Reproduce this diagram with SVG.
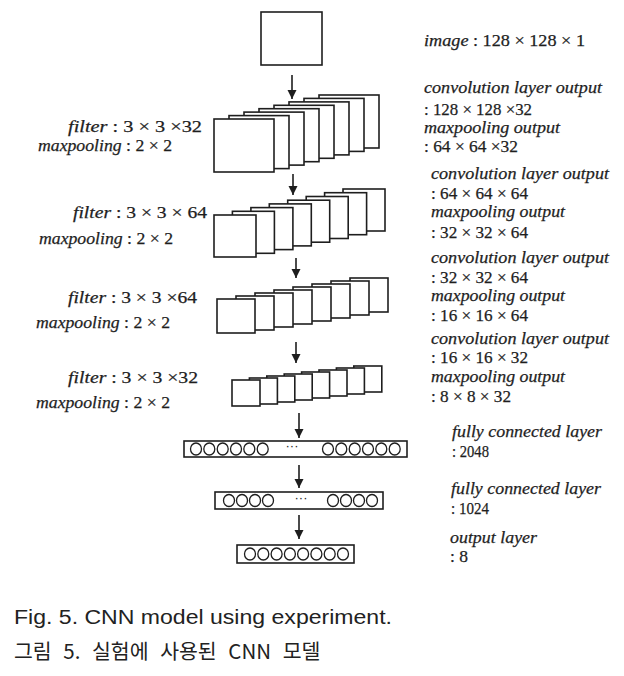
<svg xmlns="http://www.w3.org/2000/svg" width="624" height="676" viewBox="0 0 624 676">
<style>
.bg{fill:#ffffff}
.box{fill:#ffffff;stroke:#1e1e1e;stroke-width:1.6}
.neu{fill:none;stroke:#1e1e1e;stroke-width:1.3}
.arr{stroke:#1e1e1e;stroke-width:1.6;fill:none;marker-end:url(#ah)}
.t{font-family:"Liberation Serif","DejaVu Serif",serif;font-size:17px;fill:#1e1e1e;stroke:#1e1e1e;stroke-width:0.25}
.i{font-style:italic}
.dots{font-family:"Liberation Sans",sans-serif;font-size:13px;fill:#222}
.cap{font-family:"Liberation Sans","Noto Sans CJK KR",sans-serif;font-size:20px;fill:#222}
.kr{font-family:"Noto Sans CJK KR","Liberation Sans",sans-serif;font-size:20.5px;fill:#222;word-spacing:7px}
</style>
<defs>
<marker id="ah" viewBox="0 0 10 10" refX="10" refY="5" markerWidth="9" markerHeight="10" markerUnits="userSpaceOnUse" orient="auto">
<path d="M0,0 L10,5 L0,10 z" fill="#1e1e1e"/>
</marker>
</defs>
<rect class="bg" x="0" y="0" width="624" height="676"/>

<g id="input-image">
<rect class="box" x="261" y="12" width="61" height="53"/>
</g>

<g id="conv-layer-1">
<rect class="box" x="319" y="95" width="60" height="53"/>
<rect class="box" x="304" y="98.4" width="60" height="53"/>
<rect class="box" x="289" y="101.9" width="60" height="53"/>
<rect class="box" x="274" y="105.3" width="60" height="53"/>
<rect class="box" x="259" y="108.7" width="60" height="53"/>
<rect class="box" x="244" y="112.1" width="60" height="53"/>
<rect class="box" x="229" y="115.6" width="60" height="53"/>
<rect class="box" x="214" y="119" width="60" height="53"/>
</g>

<g id="conv-layer-2">
<rect class="box" x="343" y="189" width="42" height="42"/>
<rect class="box" x="324.6" y="192.7" width="42" height="42"/>
<rect class="box" x="306.2" y="196.5" width="42" height="42"/>
<rect class="box" x="287.7" y="200.2" width="42" height="42"/>
<rect class="box" x="269.3" y="203.9" width="42" height="42"/>
<rect class="box" x="250.9" y="207.6" width="42" height="42"/>
<rect class="box" x="232.4" y="211.3" width="42" height="42"/>
<rect class="box" x="214" y="215" width="42" height="42"/>
</g>

<g id="conv-layer-3">
<rect class="box" x="350" y="278" width="38" height="34"/>
<rect class="box" x="331" y="281" width="38" height="34"/>
<rect class="box" x="312" y="284" width="38" height="34"/>
<rect class="box" x="293" y="287" width="38" height="34"/>
<rect class="box" x="274" y="290" width="38" height="34"/>
<rect class="box" x="255" y="293" width="38" height="34"/>
<rect class="box" x="236" y="296" width="38" height="34"/>
<rect class="box" x="217" y="299" width="38" height="34"/>
</g>

<g id="conv-layer-4">
<rect class="box" x="353.8" y="366" width="28" height="26"/>
<rect class="box" x="336.4" y="368" width="28" height="26"/>
<rect class="box" x="319" y="370" width="28" height="26"/>
<rect class="box" x="301.6" y="372" width="28" height="26"/>
<rect class="box" x="284.2" y="374" width="28" height="26"/>
<rect class="box" x="266.8" y="376" width="28" height="26"/>
<rect class="box" x="249.4" y="378" width="28" height="26"/>
<rect class="box" x="232" y="380" width="28" height="26"/>
</g>

<g id="fc-2048">
<rect class="box" x="184" y="441" width="223" height="16"/>
<ellipse class="neu" cx="196" cy="449" rx="5.5" ry="6"/>
<ellipse class="neu" cx="209.3" cy="449" rx="5.5" ry="6"/>
<ellipse class="neu" cx="222.7" cy="449" rx="5.5" ry="6"/>
<ellipse class="neu" cx="236" cy="449" rx="5.5" ry="6"/>
<ellipse class="neu" cx="249.3" cy="449" rx="5.5" ry="6"/>
<ellipse class="neu" cx="262.7" cy="449" rx="5.5" ry="6"/>
<text class="dots" x="292" y="450" text-anchor="middle">···</text>
<ellipse class="neu" cx="328" cy="449" rx="5.5" ry="6"/>
<ellipse class="neu" cx="341.3" cy="449" rx="5.5" ry="6"/>
<ellipse class="neu" cx="354.7" cy="449" rx="5.5" ry="6"/>
<ellipse class="neu" cx="368" cy="449" rx="5.5" ry="6"/>
<ellipse class="neu" cx="381.3" cy="449" rx="5.5" ry="6"/>
<ellipse class="neu" cx="394.7" cy="449" rx="5.5" ry="6"/>
</g>

<g id="fc-1024">
<rect class="box" x="215" y="492" width="168" height="17"/>
<ellipse class="neu" cx="229" cy="500.5" rx="5.5" ry="6"/>
<ellipse class="neu" cx="242" cy="500.5" rx="5.5" ry="6"/>
<ellipse class="neu" cx="255" cy="500.5" rx="5.5" ry="6"/>
<ellipse class="neu" cx="268" cy="500.5" rx="5.5" ry="6"/>
<text class="dots" x="301" y="502" text-anchor="middle">···</text>
<ellipse class="neu" cx="333" cy="500.5" rx="5.5" ry="6"/>
<ellipse class="neu" cx="346" cy="500.5" rx="5.5" ry="6"/>
<ellipse class="neu" cx="359" cy="500.5" rx="5.5" ry="6"/>
<ellipse class="neu" cx="372" cy="500.5" rx="5.5" ry="6"/>
</g>

<g id="output-layer">
<rect class="box" x="237" y="545" width="117" height="18"/>
<ellipse class="neu" cx="250" cy="554" rx="5.5" ry="6"/>
<ellipse class="neu" cx="263.3" cy="554" rx="5.5" ry="6"/>
<ellipse class="neu" cx="276.6" cy="554" rx="5.5" ry="6"/>
<ellipse class="neu" cx="289.9" cy="554" rx="5.5" ry="6"/>
<ellipse class="neu" cx="303.1" cy="554" rx="5.5" ry="6"/>
<ellipse class="neu" cx="316.4" cy="554" rx="5.5" ry="6"/>
<ellipse class="neu" cx="329.7" cy="554" rx="5.5" ry="6"/>
<ellipse class="neu" cx="343" cy="554" rx="5.5" ry="6"/>
</g>

<g id="connectors">
<line class="arr" x1="292" y1="75" x2="292" y2="99"/>
<line class="arr" x1="293" y1="174" x2="293" y2="195"/>
<line class="arr" x1="296" y1="258" x2="296" y2="278"/>
<line class="arr" x1="296" y1="342" x2="296" y2="363"/>
<line class="arr" x1="299" y1="413" x2="299" y2="438"/>
<line class="arr" x1="299" y1="465" x2="299" y2="488"/>
<line class="arr" x1="299" y1="515" x2="299" y2="539"/>
</g>

<g id="left-labels">
<text class="t" x="68" y="132" textLength="134" lengthAdjust="spacingAndGlyphs"><tspan class="i">filter</tspan>  :  3 × 3 ×32</text>
<text class="t" x="38" y="151" textLength="134" lengthAdjust="spacingAndGlyphs"><tspan class="i">maxpooling</tspan> : 2 × 2</text>
<text class="t" x="73" y="218" textLength="134" lengthAdjust="spacingAndGlyphs"><tspan class="i">filter</tspan>  :  3 × 3 × 64</text>
<text class="t" x="39" y="244" textLength="134" lengthAdjust="spacingAndGlyphs"><tspan class="i">maxpooling</tspan> : 2 × 2</text>
<text class="t" x="68" y="303" textLength="129" lengthAdjust="spacingAndGlyphs"><tspan class="i">filter</tspan>  :  3 × 3 ×64</text>
<text class="t" x="36" y="328" textLength="134" lengthAdjust="spacingAndGlyphs"><tspan class="i">maxpooling</tspan> : 2 × 2</text>
<text class="t" x="68" y="383" textLength="130" lengthAdjust="spacingAndGlyphs"><tspan class="i">filter</tspan>  :  3 × 3 ×32</text>
<text class="t" x="36" y="408" textLength="134" lengthAdjust="spacingAndGlyphs"><tspan class="i">maxpooling</tspan> : 2 × 2</text>
</g>

<g id="right-labels">
<text class="t" x="424" y="46" textLength="161" lengthAdjust="spacingAndGlyphs"><tspan class="i">image</tspan>  :  128 × 128 × 1</text>
<text class="t i" x="424" y="93" textLength="178" lengthAdjust="spacingAndGlyphs">convolution layer output</text>
<text class="t" x="424" y="115" textLength="108" lengthAdjust="spacingAndGlyphs">: 128 × 128 ×32</text>
<text class="t i" x="424" y="133" textLength="136" lengthAdjust="spacingAndGlyphs">maxpooling output</text>
<text class="t" x="424" y="152" textLength="94" lengthAdjust="spacingAndGlyphs">: 64 × 64 ×32</text>
<text class="t i" x="431" y="179" textLength="178" lengthAdjust="spacingAndGlyphs">convolution layer output</text>
<text class="t" x="431" y="199" textLength="97" lengthAdjust="spacingAndGlyphs">: 64 × 64 × 64</text>
<text class="t i" x="431" y="217" textLength="134" lengthAdjust="spacingAndGlyphs">maxpooling output</text>
<text class="t" x="431" y="238" textLength="97" lengthAdjust="spacingAndGlyphs">: 32 × 32 × 64</text>
<text class="t i" x="431" y="263" textLength="178" lengthAdjust="spacingAndGlyphs">convolution layer output</text>
<text class="t" x="431" y="283" textLength="97" lengthAdjust="spacingAndGlyphs">: 32 × 32 × 64</text>
<text class="t i" x="431" y="301" textLength="134" lengthAdjust="spacingAndGlyphs">maxpooling output</text>
<text class="t" x="431" y="321" textLength="97" lengthAdjust="spacingAndGlyphs">: 16 × 16 × 64</text>
<text class="t i" x="431" y="344" textLength="178" lengthAdjust="spacingAndGlyphs">convolution layer output</text>
<text class="t" x="431" y="363" textLength="97" lengthAdjust="spacingAndGlyphs">: 16 × 16 × 32</text>
<text class="t i" x="431" y="382" textLength="134" lengthAdjust="spacingAndGlyphs">maxpooling output</text>
<text class="t" x="431" y="402" textLength="80" lengthAdjust="spacingAndGlyphs">: 8 × 8 × 32</text>
<text class="t i" x="452" y="437" textLength="150" lengthAdjust="spacingAndGlyphs">fully connected layer</text>
<text class="t" x="452" y="457" textLength="37" lengthAdjust="spacingAndGlyphs">: 2048</text>
<text class="t i" x="451" y="494" textLength="150" lengthAdjust="spacingAndGlyphs">fully connected layer</text>
<text class="t" x="451" y="514" textLength="38" lengthAdjust="spacingAndGlyphs">: 1024</text>
<text class="t i" x="450" y="543" textLength="87" lengthAdjust="spacingAndGlyphs">output layer</text>
<text class="t" x="450" y="562" textLength="18" lengthAdjust="spacingAndGlyphs">: 8</text>
</g>

<g id="caption">
<text class="cap" x="14" y="624" textLength="378" lengthAdjust="spacingAndGlyphs">Fig.  5. CNN model using experiment.</text>
<text class="kr" x="14" y="659">그림 5. 실험에 사용된 CNN 모델</text>
</g>
</svg>
